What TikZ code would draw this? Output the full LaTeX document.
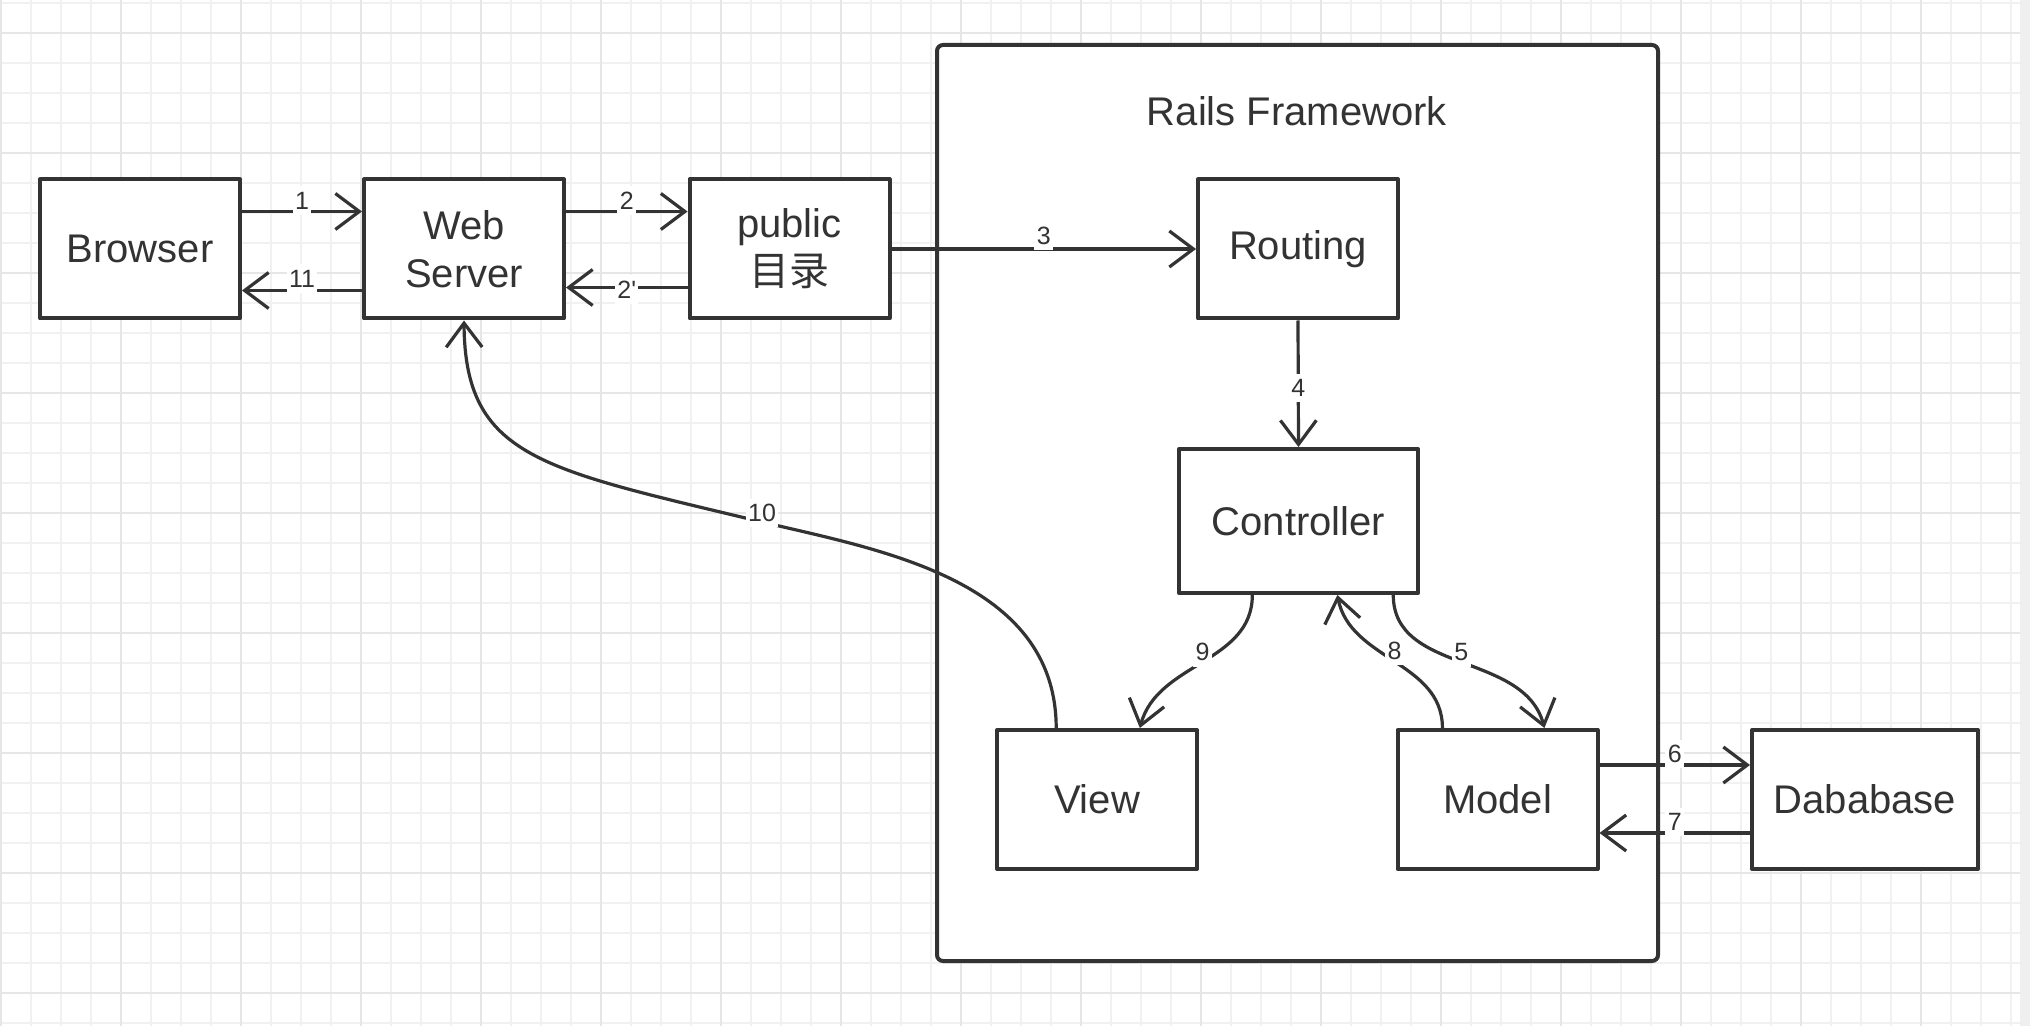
\documentclass[tikz,border=0pt]{standalone}
\usepackage{fontspec}
\setmainfont{Liberation Sans}
\newfontfamily\cjk{Noto Sans CJK SC}
\usetikzlibrary{arrows.meta,calc}
\definecolor{ink}{HTML}{333333}
\definecolor{gridminor}{HTML}{F1F1F1}
\definecolor{gridmajor}{HTML}{E6E6E6}
\definecolor{edgegray}{HTML}{EFEFEF}
\tikzset{
  box/.style={draw=ink, line width=2pt, fill=white, text=ink,
    font=\fontsize{20}{24}\selectfont, align=center, inner sep=0pt,
    minimum width=100pt, minimum height=69.5pt},
  conn/.style={draw=ink, line width=1.6pt, -{Straight Barb[length=12pt,width=18pt]}},
  lbl/.style={fill=white, text=ink, font=\fontsize{12.5}{12.5}\selectfont, inner xsep=1.2pt, inner ysep=2.8pt},
  frametitle/.style={text=ink, font=\fontsize{20}{24}\selectfont, inner sep=0pt}
}
\begin{document}
\begin{tikzpicture}[x=0.5pt, y=-0.5pt, line join=round]
  % canvas and grid
  \fill[white] (0,0) rectangle (2030,1026);
  \useasboundingbox (0,0) rectangle (2030,1026);
  \foreach \gx in {1,31,...,2011} \draw[gridminor, line width=1pt] (\gx,0) -- (\gx,1026);
  \foreach \gy in {3,33,...,1023} \draw[gridminor, line width=1pt] (0,\gy) -- (2030,\gy);
  \foreach \gx in {1,121,...,2011} \draw[gridmajor, line width=1pt] (\gx,0) -- (\gx,1026);
  \foreach \gy in {33,153,...,1000} \draw[gridmajor, line width=1pt] (0,\gy) -- (2030,\gy);
  \fill[edgegray] (2020,0) rectangle (2030,1026);

  % Rails framework container
  \node[draw=ink, line width=2pt, fill=white, rounded corners=3pt,
        minimum width=360.5pt, minimum height=458pt, inner sep=0pt] (frame) at (1297.5,503) {};
  \node[frametitle] (title) at (1297,111) {Rails Framework};

  % boxes
  \node[box] (browser) at (140,249) {Browser};
  \node[box] (ws) at (464,249) {Web\\Server};
  \node[box] (pub) at (789.5,249) {public\\{\cjk 目录}};
  \node[box] (routing) at (1298,249) {Routing};
  \node[box, minimum width=119.5pt, minimum height=72pt] (controller) at (1298.5,521) {Controller};
  \node[box] (view) at (1097,799.5) {View};
  \node[box] (model) at (1497.5,799.5) {Model};
  \node[box, minimum width=113pt] (db) at (1865,799.5) {Dababase};

  % straight connectors
  \draw[conn] ($(browser.north east)+(0,34)$) -- node[lbl,yshift=5.5pt]{1} ($(ws.north west)+(0,34)$);
  \draw[conn] ($(ws.north west)+(0,113)$) -- node[lbl,yshift=6pt]{11} ($(browser.north east)+(0,113)$);
  \draw[conn] ($(ws.north east)+(0,34)$) -- node[lbl,yshift=5.5pt]{2} ($(pub.north west)+(0,34)$);
  \draw[conn] ($(pub.north west)+(0,110)$) -- node[lbl,yshift=-1pt]{2\textquotesingle} ($(ws.north east)+(0,110)$);
  \draw[conn] (pub.east) -- node[lbl,yshift=6.5pt]{3} (routing.west);
  \draw[conn] (routing.south) -- node[lbl,yshift=-2pt]{4} (controller.north);
  \draw[conn] ($(model.north east)+(0,37)$) -- node[lbl,yshift=5.5pt]{6} ($(db.north west)+(0,37)$);
  \draw[conn] ($(db.north west)+(0,105)$) -- node[lbl,yshift=5.5pt]{7} ($(model.north east)+(0,105)$);

  % curved connectors
  \draw[conn] ($(controller.south west)!0.31!(controller.south east)$) to[out=-90,in=75]
      node[lbl,yshift=5pt]{9} ($(view.north west)!0.71!(view.north east)$);
  \draw[conn] ($(controller.south west)!0.89!(controller.south east)$) to[out=-90,in=105]
      node[lbl,yshift=5pt]{5} ($(model.north west)!0.73!(model.north east)$);
  \draw[conn] ($(model.north west)!0.23!(model.north east)$) to[out=90,in=-79]
      node[lbl,yshift=5pt]{8} ($(controller.south west)!0.66!(controller.south east)$);
  \draw[conn] ($(view.north west)!0.3!(view.north east)$) .. controls (1056,580) and (880,550) ..
      (762,522) node[lbl,yshift=4.5pt]{10} .. controls (542,469) and (465,458) .. (ws.south);
\end{tikzpicture}
\end{document}
